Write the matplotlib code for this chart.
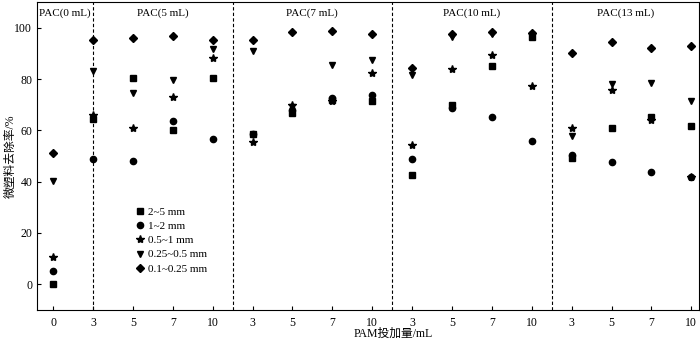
import numpy as np
import matplotlib.pyplot as plt

plt.rcParams['font.family'] = ['Liberation Serif', 'Noto Sans CJK SC']

# PAM dose tick labels, grouped by PAC dose
pam_labels = ['0', '3', '5', '7', '10', '3', '5', '7', '10',
              '3', '5', '7', '10', '3', '5', '7', '10']
pac_groups = ['PAC(0 mL)', 'PAC(5 mL)', 'PAC(7 mL)', 'PAC(10 mL)', 'PAC(13 mL)']

# removal rate (%) per particle size class
r_2_5 = [0, 64.4, 80.5, 60.1, 80.4, 58.7, 66.9, 72.0, 71.3,
         42.4, 69.8, 85.0, 96.5, 49.3, 60.8, 65.1, 61.5]
r_1_2 = [5.3, 48.7, 47.9, 63.7, 56.8, 58.7, 68.0, 72.6, 73.9,
         48.8, 68.7, 65.0, 55.9, 50.5, 47.6, 43.6, 41.8]
r_05_1 = [10.8, 66.1, 61.0, 73.1, 88.2, 55.4, 69.9, 71.6, 82.2,
          54.2, 83.9, 89.5, 77.3, 61.0, 75.7, 64.1, 41.6]
r_025_05 = [40.2, 83.3, 74.4, 79.8, 91.7, 90.8, 69.0, 85.5, 87.4,
            81.5, 96.2, 97.5, 97.0, 57.8, 78.0, 78.4, 71.5]
r_01_025 = [51.2, 95.3, 96.0, 96.9, 95.3, 95.2, 98.2, 98.6, 97.5,
            84.3, 97.5, 98.3, 98.1, 90.1, 94.3, 92.0, 92.7]

series = [
    (r_2_5, 's', 4, '2~5 mm'),
    (r_1_2, 'o', 4.5, '1~2 mm'),
    (r_05_1, '*', 6, '0.5~1 mm'),
    (r_025_05, 'v', 5, '0.25~0.5 mm'),
    (r_01_025, 'D', 4, '0.1~0.25 mm'),
]

x = np.arange(len(pam_labels))
dividers = [1, 4.5, 8.5, 12.5]

fig = plt.figure(figsize=(7, 3.42), dpi=100)
ax = fig.add_axes([0.053, 0.094, 0.946, 0.9])

for vals, mk, ms, lab in series:
    ax.plot(x, vals, linestyle='none', marker=mk, markersize=ms,
            color='black', label=lab)

for d in dividers:
    ax.axvline(d, color='black', linestyle=(0, (3, 2)), linewidth=0.8)

ax.set_xlim(-0.4, 16.2)
ax.set_ylim(-10, 110)
ax.set_xticks(x)
ax.set_xticklabels(pam_labels)
ax.set_yticks([0, 20, 40, 60, 80, 100])
ax.tick_params(direction='in', length=3, labelsize=8.5, width=0.8)
ax.tick_params(axis='x', pad=5)
for s in ax.spines.values():
    s.set_linewidth(0.8)

# group titles centred in each PAC section
edges = [-0.4] + dividers + [16.2]
for i, g in enumerate(pac_groups):
    ax.text((edges[i] + edges[i + 1]) / 2, 105.5, g, ha='center', va='center', fontsize=8)

ax.set_ylabel('微塑料去除率/%', fontsize=8.5)
ax.set_xlabel('PAM投加量/mL', fontsize=8.5)
ax.xaxis.set_label_coords(0.538, -0.058)
ax.yaxis.set_label_coords(-0.03, 0.5)

ax.legend(loc='lower left', bbox_to_anchor=(0.13, 0.085), frameon=False,
          fontsize=8, handletextpad=0.1, labelspacing=0.4, handlelength=1.2)

fig.savefig('out.png', dpi=100)
